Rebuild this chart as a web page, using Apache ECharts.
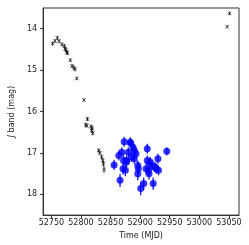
<!DOCTYPE html>
<html><head><meta charset="utf-8">
<script src="https://cdn.jsdelivr.net/npm/echarts@6/dist/echarts.min.js"></script>
<style>html,body{margin:0;padding:0;background:#fff}#c{width:249px;height:245px}</style>
</head><body><div id="c"></div>
<script>
const xTicks = [52750, 52800, 52850, 52900, 52950, 53000, 53050];
const yTicks = [14, 15, 16, 17, 18];

const blackX = [52752,52756,52760,52763,52768,52772,52773,52774.5,52776,52777,52782,52785,52788,52790,52793,52805,52811,52808,52810,52817,52819,52818,52820,52830,52832,52835,52837,52838,52839,53047,53051];
const blackY = [14.36,14.30,14.22,14.30,14.38,14.42,14.48,14.51,14.56,14.59,14.76,14.90,14.94,14.98,15.20,15.72,16.18,16.32,16.34,16.36,16.40,16.46,16.52,16.94,17.00,17.10,17.18,17.26,17.40,13.95,13.63];
const blackErr = [0.05,0.05,0.05,0.05,0.05,0.05,0.05,0.05,0.05,0.05,0.04,0.05,0.05,0.05,0.04,0.04,0.05,0.05,0.05,0.05,0.05,0.06,0.06,0.05,0.05,0.06,0.06,0.07,0.08,0.03,0.04];

const blueX = [52856,52866,52873,52869,52864,52872,52877,52871,52875,52880,52884,52883,52888,52890,52893,52885,52890,52877,52896,52897,52896,52912,52912,52910,52914,52917,52920,52915,52906,52901,52922,52925,52927,52930,52931,52945];
const blueY = [17.29,17.66,16.73,16.98,17.06,17.18,17.22,17.38,17.42,16.98,16.76,16.74,16.86,16.94,17.02,17.10,17.14,17.18,17.30,17.38,17.50,16.90,17.18,17.38,17.42,17.22,17.30,17.50,17.74,17.86,17.74,17.34,17.38,17.14,17.42,16.96];
const blueErr = [0.12,0.16,0.12,0.12,0.12,0.12,0.12,0.14,0.14,0.12,0.12,0.12,0.12,0.12,0.12,0.12,0.12,0.12,0.12,0.14,0.16,0.12,0.12,0.14,0.14,0.12,0.12,0.14,0.15,0.16,0.15,0.12,0.12,0.12,0.12,0.10];

const black = blackX.map((x, i) => [x, blackY[i], blackErr[i]]);
const blue = blueX.map((x, i) => [x, blueY[i], blueErr[i]]);

function errBars(color, w) {
  return function (params, api) {
    const x = api.value(0), y = api.value(1), e = api.value(2);
    const p1 = api.coord([x, y - e]), p2 = api.coord([x, y + e]);
    return { type: 'line', shape: { x1: p1[0], y1: p1[1], x2: p2[0], y2: p2[1] },
      style: { stroke: color, lineWidth: w } };
  };
}

const FONT = 'DejaVu Sans';
const chart = echarts.init(document.getElementById('c'), null, { renderer: 'canvas' });
chart.setOption({
  animation: false,
  grid: { left: 31, right: 10, top: 8, bottom: 28, show: true, borderColor: '#333', borderWidth: 1 },
  xAxis: {
    type: 'value', min: 52736, max: 53067,
    name: 'Time (MJD)', nameLocation: 'middle', nameGap: 15,
    nameTextStyle: { fontFamily: FONT, fontSize: 8, color: '#222' },
    axisLine: { show: true, onZero: false, lineStyle: { color: '#333' } },
    axisTick: { show: true, length: 3, customValues: xTicks, lineStyle: { color: '#333' } },
    axisLabel: { customValues: xTicks, margin: 4, fontFamily: FONT, fontSize: 8, color: '#222',
      formatter: v => String(v) },
    splitLine: { show: false }
  },
  yAxis: {
    type: 'value', min: 13.5, max: 18.5, inverse: true,
    name: '{i|J} band (mag)', nameLocation: 'middle', nameGap: 22, nameRotate: 90,
    nameTextStyle: { fontFamily: FONT, fontSize: 8, color: '#222',
      rich: { i: { fontStyle: 'italic', fontFamily: FONT, fontSize: 8, color: '#222' } } },
    axisLine: { show: true, onZero: false, lineStyle: { color: '#333' } },
    axisTick: { show: true, length: 3, customValues: yTicks, lineStyle: { color: '#333' } },
    axisLabel: { customValues: yTicks, margin: 6, fontFamily: FONT, fontSize: 8, color: '#222',
      formatter: v => String(v) },
    splitLine: { show: false }
  },
  series: [
    { type: 'custom', data: black, renderItem: errBars('#000', 0.8), z: 2 },
    { type: 'scatter', data: black, symbol: 'path://M0,1L1,0L5,4L9,0L10,1L6,5L10,9L9,10L5,6L1,10L0,9L4,5Z',
      symbolSize: 4, itemStyle: { color: '#000' }, z: 3 },
    { type: 'custom', data: blue, renderItem: errBars('#0000ff', 1.2), z: 4 },
    { type: 'scatter', data: blue, symbol: 'circle', symbolSize: 7, itemStyle: { color: '#0000ff' }, z: 5 }
  ]
});
</script></body></html>
